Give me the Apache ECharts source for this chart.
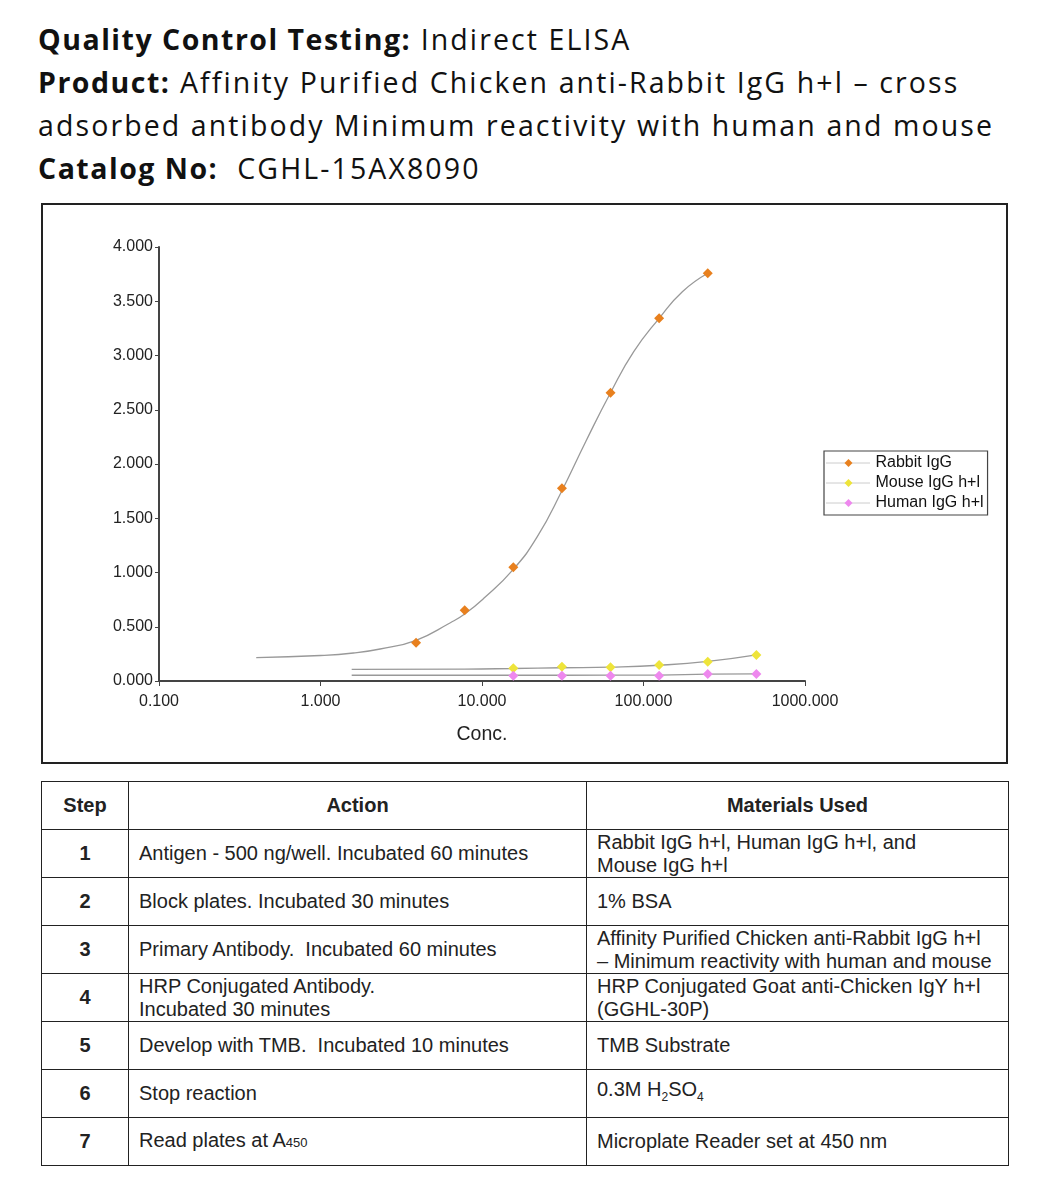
<!DOCTYPE html>
<html><head><meta charset="utf-8">
<script src="https://cdn.jsdelivr.net/npm/echarts@6/dist/echarts.min.js"></script>
<style>
html,body{margin:0;padding:0;background:#fff;width:1050px;height:1200px;overflow:hidden;}
#head{position:absolute;left:38px;top:18px;font-family:'Open Sans',sans-serif;font-size:28.5px;line-height:43px;color:#111;white-space:nowrap;letter-spacing:2.1px;}
#head b{font-weight:700;letter-spacing:1.5px;}
#box{position:absolute;left:41px;top:203px;width:963px;height:557px;border:2px solid #222;}
#chart{width:963px;height:557px;}
table{position:absolute;left:41px;top:781px;width:968px;border-collapse:collapse;font-family:'Liberation Sans',Arial,sans-serif;font-size:20px;color:#222;}
td,th{border:1.6px solid #222;padding:0 10px;height:47px;line-height:23px;}
th{font-weight:700;text-align:center;}
td.s{text-align:center;font-weight:700;}
</style></head>
<body>
<div id="head">
<div><b>Quality Control Testing:</b> Indirect ELISA</div>
<div><b>Product:</b> Affinity Purified Chicken anti-Rabbit IgG h+l – cross</div>
<div>adsorbed antibody Minimum reactivity with human and mouse</div>
<div><b>Catalog No:</b>&nbsp; CGHL-15AX8090</div>
</div>
<div id="box"><div id="chart"></div></div>
<table>
<tr><th style="width:66px">Step</th><th style="width:437px">Action</th><th>Materials Used</th></tr>
<tr><td class="s">1</td><td>Antigen - 500 ng/well. Incubated 60 minutes</td><td>Rabbit IgG h+l, Human IgG h+l, and<br>Mouse IgG h+l</td></tr>
<tr><td class="s">2</td><td>Block plates. Incubated 30 minutes</td><td>1% BSA</td></tr>
<tr><td class="s">3</td><td>Primary Antibody.&nbsp; Incubated 60 minutes</td><td>Affinity Purified Chicken anti-Rabbit IgG h+l<br>– Minimum reactivity with human and mouse</td></tr>
<tr><td class="s">4</td><td>HRP Conjugated Antibody.<br>Incubated 30 minutes</td><td>HRP Conjugated Goat anti-Chicken IgY h+l<br>(GGHL-30P)</td></tr>
<tr><td class="s">5</td><td>Develop with TMB.&nbsp; Incubated 10 minutes</td><td>TMB Substrate</td></tr>
<tr><td class="s">6</td><td>Stop reaction</td><td>0.3M H<sub style="font-size:12px">2</sub>SO<sub style="font-size:12px">4</sub></td></tr>
<tr><td class="s">7</td><td>Read plates at A<span style="font-size:13px">450</span></td><td>Microplate Reader set at 450 nm</td></tr>
</table>
<script>
// Measured points
const concRabbit = [3.906, 7.813, 15.625, 31.25, 62.5, 125, 250];
const odRabbit   = [0.353, 0.652, 1.048, 1.776, 2.657, 3.343, 3.758];
const concCtrl   = [15.625, 31.25, 62.5, 125, 250, 500];
const odMouse    = [0.117, 0.132, 0.126, 0.147, 0.178, 0.240];
const odHuman    = [0.049, 0.049, 0.049, 0.049, 0.065, 0.065];
// Fitted curves
const fitRabbitX = [0.4, 1, 1.6, 2.34, 3.906, 6.37, 7.813, 10.26, 15.625, 22, 31.25, 44, 62.5, 87, 125, 174, 250];
const fitRabbitY = [0.215, 0.235, 0.258, 0.295, 0.375, 0.537, 0.617, 0.762, 1.029, 1.33, 1.754, 2.21, 2.657, 3.035, 3.343, 3.588, 3.758];
const fitMouseX  = [1.56, 7.813, 15.625, 31.25, 62.5, 125, 250, 500];
const fitMouseY  = [0.108, 0.110, 0.115, 0.122, 0.128, 0.145, 0.180, 0.240];
const fitHumanX  = [1.56, 31.25, 125, 250, 500];
const fitHumanY  = [0.053, 0.053, 0.055, 0.063, 0.065];
const seriesNames = ['Rabbit IgG', 'Mouse IgG h+l', 'Human IgG h+l'];
const colors = ['#E8801E', '#EEE43A', '#EE88EE'];

const zip = (a, b) => a.map((v, i) => [v, b[i]]);
const chart = echarts.init(document.getElementById('chart'));
const fitLine = (x, y) => ({
  type: 'line', data: zip(x, y), smooth: 0.5, showSymbol: false, silent: true,
  lineStyle: { color: '#999', width: 1.3 }, z: 1
});
const pts = (name, x, y, c) => ({
  name, type: 'line', data: zip(x, y), symbol: 'diamond', symbolSize: 10, showSymbol: true,
  itemStyle: { color: c }, lineStyle: { opacity: 0, width: 0 }, z: 3
});
chart.setOption({
  animation: false,
  textStyle: { fontFamily: 'Liberation Sans' },
  grid: { left: 116, right: 201, top: 42, bottom: 81 },
  legend: {
    orient: 'vertical', left: 781, top: 246, data: seriesNames,
    backgroundColor: '#fff', borderColor: '#444', borderWidth: 1.2, borderRadius: 0,
    padding: [3, 4, 3, 2], itemGap: 2, itemWidth: 44, itemHeight: 10,
    textStyle: { fontSize: 16, lineHeight: 18, color: '#111', fontFamily: 'Liberation Sans' },
    lineStyle: { color: '#999', type: 'dotted', width: 1, opacity: 1 }
  },
  xAxis: {
    type: 'log', logBase: 10, min: 0.1, max: 1000,
    name: 'Conc.', nameLocation: 'middle', nameGap: 44,
    nameTextStyle: { fontSize: 19.5, color: '#222', fontFamily: 'Liberation Sans' },
    axisLine: { lineStyle: { color: '#444', width: 2 } },
    axisTick: { show: true, length: 5, lineStyle: { color: '#444' } },
    axisLabel: { formatter: v => Number(v).toFixed(3), fontSize: 16, color: '#222', margin: 13 },
    splitLine: { show: false }, minorTick: { show: false }
  },
  yAxis: {
    type: 'value', min: 0, max: 4, interval: 0.5,
    axisLine: { show: true, lineStyle: { color: '#444', width: 2 } },
    axisTick: { show: true, length: 4, lineStyle: { color: '#444' } },
    axisLabel: { formatter: v => v.toFixed(3), fontSize: 16, color: '#222', margin: 6 },
    splitLine: { show: false }
  },
  series: [
    fitLine(fitRabbitX, fitRabbitY),
    fitLine(fitMouseX, fitMouseY),
    fitLine(fitHumanX, fitHumanY),
    pts(seriesNames[0], concRabbit, odRabbit, colors[0]),
    pts(seriesNames[1], concCtrl, odMouse, colors[1]),
    pts(seriesNames[2], concCtrl, odHuman, colors[2])
  ]
});
</script>
</body></html>
